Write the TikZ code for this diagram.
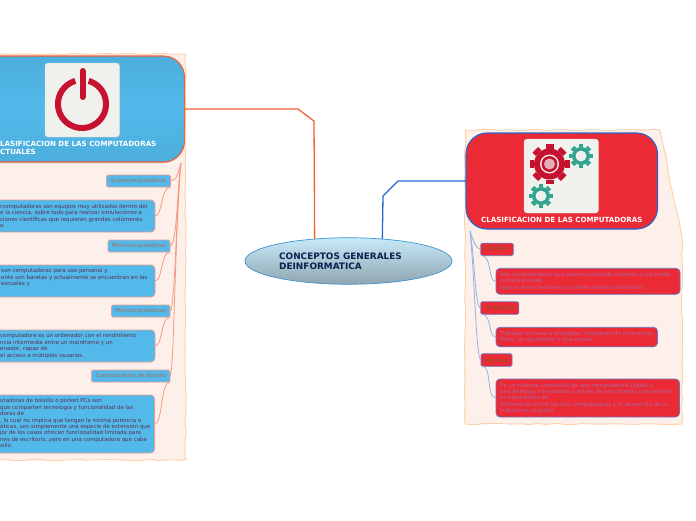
\documentclass[tikz,border=0pt]{standalone}
\usepackage{fontspec}
\setmainfont{DejaVu Sans}
\usetikzlibrary{shapes.geometric,decorations.pathmorphing,shadows}
\definecolor{skyb}{HTML}{52B9EA}
\definecolor{skyd}{HTML}{4CAEDD}
\definecolor{redb}{HTML}{EC2A35}
\definecolor{orgl}{HTML}{F2603A}
\definecolor{bluel}{HTML}{2468D2}
\definecolor{panel}{HTML}{FDF0EB}
\definecolor{panelb}{HTML}{FFD0A6}
\definecolor{tile}{HTML}{F0F0EC}
\definecolor{crim}{HTML}{C5122F}
\definecolor{tealg}{HTML}{30A48E}
\definecolor{lefttxt}{HTML}{5E2F4E}
\definecolor{righttxt}{HTML}{A868A0}
\definecolor{lborder}{HTML}{EA9C8E}
\definecolor{ltan}{HTML}{A56E58}
\definecolor{rborder}{HTML}{6C74C0}
\definecolor{rolive}{HTML}{7E5A24}
\definecolor{mainb}{HTML}{3A94D0}
\definecolor{maintop}{HTML}{C8EAFA}
\definecolor{mainbot}{HTML}{8FA5B0}
\definecolor{mainnavy}{HTML}{0A2050}
\tikzset{
 panelshape/.style={fill=panel,draw=panelb,line width=.9pt,decorate,decoration={random steps,segment length=9pt,amplitude=.7pt}},
 header/.style={rectangle,rounded corners=21pt,outer sep=0pt,line width=1.1pt},
 tileshape/.style={fill=tile,draw=tile!90!black,line width=.3pt,rounded corners=3pt},
 lsmall/.style={rectangle,rounded corners=1.5pt,fill=skyb,draw=lborder,line width=.8pt,outer sep=0pt,inner sep=0pt,minimum height=12pt,font=\fontsize{5.5}{6}\selectfont,text=ltan},
 lbig/.style={rectangle,rounded corners=4pt,fill=skyb,draw=lborder,line width=.8pt,outer sep=0pt,inner sep=0pt},
 rsmall/.style={rectangle,rounded corners=1.5pt,fill=redb,draw=rborder,line width=.8pt,outer sep=0pt,inner sep=0pt,minimum height=12.5pt,font=\fontsize{5.5}{6}\selectfont,text=rolive},
 rbig/.style={rectangle,rounded corners=4pt,fill=redb,draw=rborder,line width=.8pt,outer sep=0pt,inner sep=0pt},
 ltext/.style={anchor=north west,inner sep=0pt,align=left,text=lefttxt,font=\fontsize{5.45}{6.4}\selectfont},
 rtext/.style={anchor=north west,inner sep=0pt,align=left,text=righttxt,font=\fontsize{5.5}{6.4}\selectfont},
 headtext/.style={inner sep=0pt,align=left,text=white,font=\fontsize{7.1}{8.2}\selectfont\bfseries},
 lbranch/.style={draw=orgl!60!panel,line width=.8pt},
 rbranch/.style={draw=bluel!50!white,line width=.8pt},
 mainlink/.style={line width=1.3pt},
}
\newcommand{\gearshape}[5]{% x, y, outer, body, colour
  \foreach \a in {0,45,...,315}{
    \fill[#5] (#1,#2) ++(\a:#4) ++(\a+90:#3*.2) -- ++(\a:#3-#4) -- ++(\a-90:#3*.4) -- ++(\a+180:#3-#4) -- cycle;
  }
  \fill[#5] (#1,#2) circle[radius=#4];
}
\begin{document}
\begin{tikzpicture}[x=1pt,y=-1pt]
\useasboundingbox (0,0) rectangle (696,520);
\clip (0,0) rectangle (696,520);
\fill[white] (0,0) rectangle (696,520);
% panels
\path[panelshape] (-8,54) -- (185.5,54) -- (185.5,460) -- (-8,460) -- cycle;
\path[panelshape] (465,130) -- (660,130) -- (667,163) -- (673,197) -- (682,237) -- (682,424) -- (465,424) -- cycle;
% headers
\node[header,draw=orgl,top color=skyd,bottom color=skyd,middle color=skyb,
  drop shadow={shadow xshift=0pt,shadow yshift=-1.2pt,opacity=.35},
  minimum width=214.5pt,minimum height=106pt] (hdrL) at (77.25,109) {};
\node[header,draw=bluel,fill=redb,minimum width=191.5pt,minimum height=96pt] (hdrR) at (561.75,181) {};
% main topic
\node[ellipse,draw=mainb,top color=maintop,bottom color=mainbot,line width=.7pt,minimum width=207pt,minimum height=46.5pt,outer sep=0pt,inner sep=0pt] (main) at (348.5,261) {};
\node[anchor=west,inner sep=0pt,align=left,text=mainnavy,font=\fontsize{8.9}{10.8}\selectfont\bfseries] (maintxt) at (279,261.3) {CONCEPTOS GENERALES\\DEINFORMATICA};
% main connectors
\draw[mainlink,draw=orgl] (hdrL.east) -- (298,109) -- (314,121) -- (main.147);
\draw[mainlink,draw=bluel] (hdrR.west) -- (398,181) -- (383,196) -- (main.33);
% left icon
\path[tileshape] (45,63) rectangle (119.5,137);
\draw[crim,line width=6pt] plot[domain=106:434,samples=70] ({82+24*cos(\x)},{104-24*sin(\x)});
\draw[crim,line width=6pt,line cap=round] (82.5,71) -- (82.5,97);
\node[headtext,anchor=west] (hdrLtxt) at (0,147.6) {LASIFICACION DE LAS COMPUTADORAS\\CTUALES};
% right icon
\path[tileshape] (524,139) rectangle (598.5,213);
\gearshape{549.5}{164}{20}{15.5}{crim}
\fill[tile] (549.5,164) circle[radius=9.5];
\fill[crim] (549.5,164) circle[radius=8];
\fill[tile!70!crim] (549.5,164) circle[radius=5.5];
\gearshape{581}{156}{12}{9}{tealg}
\fill[tile] (581,156) circle[radius=5.5];
\gearshape{541}{196}{12}{9}{tealg}
\fill[tile] (541,196) circle[radius=5.5];
\node[headtext,anchor=center] (hdrRtxt) at (561.75,219.5) {CLASIFICACION DE LAS COMPUTADORAS};
% left small nodes
\node[lsmall,minimum width=64pt] (ls1) at (138.5,181) {Supercomputadoras};
\node[lsmall,minimum width=62pt] (ls2) at (139,246) {Microcomputadoras};
\node[lsmall,minimum width=58.5pt] (ls3) at (140.75,311) {Minicomputadoras};
\node[lsmall,minimum width=78.5pt] (ls4) at (130.75,376) {Computadoras de bolsillo};
% left big nodes
\node[lbig,minimum width=175pt,minimum height=32pt] (lb1) at (67.5,216) {};
\node[lbig,minimum width=175pt,minimum height=32pt] (lb2) at (67.5,281) {};
\node[lbig,minimum width=175pt,minimum height=32pt] (lb3) at (67.5,346) {};
\node[lbig,minimum width=174.5pt,minimum height=58pt] (lb4) at (67.25,424) {};
\node[ltext] (lt1) at (0,204) {rcomputadoras son equipos muy utilizados dentro del\\e la ciencia, sobre todo para realizar simulaciones e\\ciones científicas que requieren grandes volúmenes\\o.};
\node[ltext] (lt2) at (1,268.5) {son computadoras para uso personal y\\ente son baratas y actualmente se encuentran en las\\escuelas y};
\node[ltext] (lt3) at (0,333.5) {computadora es un ordenador con el rendimiento\\ncia intermedia entre un mainframe y un\\enador, capaz de\\el acceso a múltiples usuarios.};
\node[ltext] (lt4) at (0,398.5) {utadoras de bolsillo o pocket PCs son\\que comparten tecnología y funcionalidad de las\\doras de\\, lo cual no implica que tengan la misma potencia o\\áticas, son simplemente una especie de extensión que\\jor de los casos ofrecen funcionalidad limitada para\\nes de escritorio, pero en una computadora que cabe\\sillo.};
% left tree
\coordinate (lroot) at (181,163);
\draw[lbranch] (lroot) .. controls (178,172) and (177,181) .. (ls1.east);
\draw[lbranch] (lroot) .. controls (177,190) and (177,246) .. (ls2.east);
\draw[lbranch] (lroot) .. controls (176,210) and (175,311) .. (ls3.east);
\draw[lbranch] (lroot) .. controls (175,230) and (174,376) .. (ls4.east);
\draw[lbranch] (ls1.south east) .. controls (160,188) and (163,216) .. (lb1.east);
\draw[lbranch] (ls2.south east) .. controls (160,253) and (163,281) .. (lb2.east);
\draw[lbranch] (ls3.south east) .. controls (160,318) and (163,346) .. (lb3.east);
\draw[lbranch] (ls4.south east) .. controls (160,383) and (163,424) .. (lb4.east);
% right small nodes
\node[rsmall,minimum width=32.5pt] (rs1) at (497,249.4) {Digitales};
\node[rsmall,minimum width=38pt] (rs2) at (499.75,308) {Analogicas};
\node[rsmall,minimum width=31pt] (rs3) at (496.5,360) {Hibridas};
% right big nodes
\node[rbig,minimum width=184pt,minimum height=26pt] (rb1) at (588,281.3) {};
\node[rbig,minimum width=161.5pt,minimum height=19.5pt] (rb2) at (576.75,337) {};
\node[rbig,minimum width=183.5pt,minimum height=38pt] (rb3) at (587.75,398) {};
\node[rtext] (rt1) at (500,271.6) {Son computadoras que operan contando números y haciendo\\comparaciones\\lógicas entre factores que tienen valores numéricos.};
\node[rtext] (rt2) at (500,330.8) {Trabajan en base a analogías. Requieren de un proceso\\físico, un apuntador y una escala.};
\node[rtext] (rt3) at (500,382.8) {Es un sistema construido de una computadora Digital y\\una Análoga, conectadas a través de una interfaz que permite\\el intercambio de\\información entre las dos computadoras y el desarrollo de su\\trabajo en conjunto.};
% right tree
\coordinate (rroot) at (470,231);
\draw[rbranch] (rroot) .. controls (473,240) and (476,249) .. (rs1.west);
\draw[rbranch] (rroot) .. controls (475,260) and (475,308) .. (rs2.west);
\draw[rbranch] (rroot) .. controls (475,280) and (476,360) .. (rs3.west);
\draw[rbranch] (rs1.south west) ++(2,0) .. controls (492,258) and (488,282) .. (rb1.west);
\draw[rbranch] (rs2.south west) ++(2,0) .. controls (492,316) and (488,337) .. (rb2.west);
\draw[rbranch] (rs3.south west) ++(2,0) .. controls (492,368) and (486,398) .. (rb3.west);
\end{tikzpicture}
\end{document}
